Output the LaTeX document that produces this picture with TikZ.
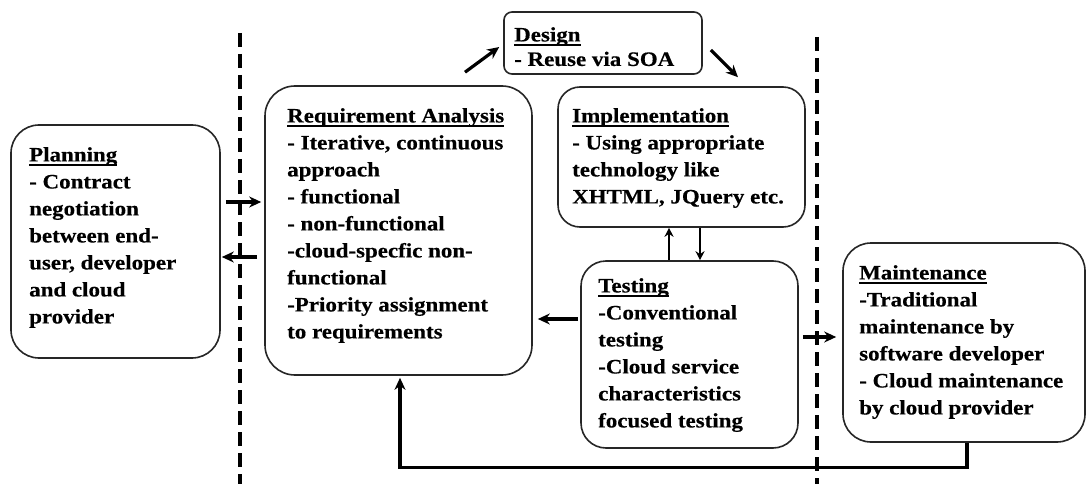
\documentclass[tikz,border=0pt]{standalone}
\usepackage{fontspec}
\setmainfont[FakeStretch=1.12,BoldFeatures={FakeBold=0.4}]{Liberation Serif}
\usetikzlibrary{arrows.meta,calc}

% underlined heading
\newcommand\ttl[1]{\setbox0\hbox{#1}\rlap{\rule[-4.3pt]{\wd0}{1.7pt}}\box0}

\tikzset{
  box/.style={draw=black!85, line width=1.6pt, fill=white, inner sep=0pt},
  txt/.style={anchor=north west, inner sep=0pt, align=left, text=black,
    font=\fontsize{20.5}{27}\selectfont\bfseries},
  arr/.style={draw=black, line width=3.2pt, -{Stealth[length=12pt,width=11pt]}},
  thinarr/.style={draw=black, line width=2.2pt, -{Stealth[length=9pt,width=9pt]}},
  divider/.style={draw=black, line width=3.2pt, dash pattern=on 14pt off 7pt},
}

\begin{document}
\begin{tikzpicture}[x=1pt,y=-1pt]
\useasboundingbox (0,0) rectangle (1087,484);

% phase boundaries
\draw[divider] (240,33) -- (240,484);
\draw[divider] (817,37) -- (817,484);

% phase boxes
\node[box, rounded corners=28pt, minimum width=209pt, minimum height=233pt] (plan)   at (115.5,241.5) {};
\node[box, rounded corners=30pt, minimum width=267pt, minimum height=289pt] (ra)     at (398.5,230.5) {};
\node[box, rounded corners=8pt,  minimum width=198pt, minimum height=62pt]  (design) at (603,43) {};
\node[box, rounded corners=22pt, minimum width=247pt, minimum height=140pt] (impl)   at (681.5,157) {};
\node[box, rounded corners=25pt, minimum width=217pt, minimum height=187pt] (test)   at (689.5,354.5) {};
\node[box, rounded corners=28pt, minimum width=242pt, minimum height=199pt] (maint)  at (964,342.5) {};

% box contents
\node[txt] (plantext) at (29,147) {\ttl{Planning}\\- Contract\\negotiation\\between end-\\user, developer\\and cloud\\provider};
\node[txt] (ratext) at (287,108) {\ttl{Requirement Analysis}\\- Iterative, continuous\\approach\\- functional\\- non-functional\\-cloud-specfic non-\\functional\\-Priority assignment\\to requirements};
\node[txt, font=\fontsize{20.5}{24.5}\selectfont\bfseries] (designtext) at (514,27) {\ttl{Design}\\- Reuse via SOA};
\node[txt] (impltext) at (572,108) {\ttl{Implementation}\\- Using appropriate\\technology like\\XHTML, JQuery etc.};
\node[txt] (testtext) at (598,278) {\ttl{Testing}\\-Conventional\\testing\\-Cloud service\\characteristics\\focused testing};
\node[txt] (mainttext) at (859,265) {\ttl{Maintenance}\\-Traditional\\maintenance by\\software developer\\- Cloud maintenance\\by cloud provider};

% flow between phases
\draw[arr] ([xshift=5pt,yshift=39.5pt]plan.east) -- ([xshift=-3pt,yshift=28.5pt]ra.west);
\draw[arr] ([xshift=-7pt,yshift=-26.5pt]ra.west) -- ([xshift=1pt,yshift=-15.5pt]plan.east);
\draw[arr] ([xshift=66.5pt,yshift=13pt]ra.north) -- ([xshift=-4pt,yshift=-4pt]design.west);
\draw[arr] ([xshift=8pt,yshift=-7pt]design.east) -- ([xshift=56.5pt,yshift=9pt]impl.north);
\draw[thinarr] ([xshift=-20.5pt]test.north) -- ([xshift=-12.5pt]impl.south);
\draw[thinarr] ([xshift=18.5pt]impl.south) -- ([xshift=10.5pt]test.north);
\draw[arr] ([xshift=-2pt,yshift=35.5pt]test.west) -- ([xshift=5pt,yshift=-88.5pt]ra.east);
\draw[arr] ([xshift=4pt,yshift=17.5pt]test.east) -- ([xshift=-6pt,yshift=5.5pt]maint.west);
\draw[arr] ([xshift=3pt]maint.south) -- ++(0,25) -| ([xshift=1.5pt,yshift=-2pt]ra.south);
\end{tikzpicture}
\end{document}
